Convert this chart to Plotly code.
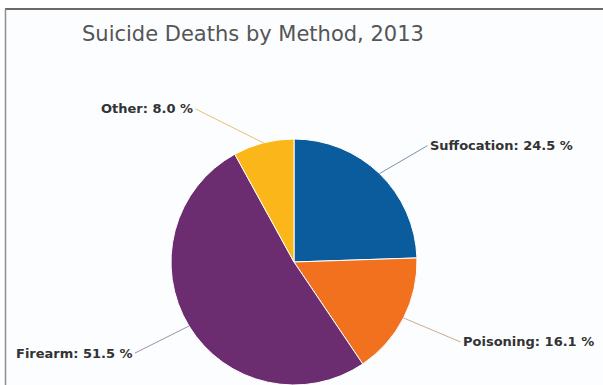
import math
import plotly.graph_objects as go

W, H = 603, 385

labels = ["Suffocation", "Poisoning", "Firearm", "Other"]
values = [24.5, 16.1, 51.5, 8.0]
colors = ["#0b5c9c", "#f2711f", "#6c2d70", "#fbb71a"]
connector_colors = ["rgba(70,100,130,0.7)", "rgba(200,150,110,0.8)",
                    "rgba(120,100,130,0.7)", "rgba(225,190,100,0.9)"]
title_text = "Suicide Deaths by Method, 2013"

# pie geometry (pixels)
cx, cy, R = 294, 262, 123
dom_x = [(cx - R) / W, (cx + R) / W]
dom_y = [0, 2 * R / H]

fig = go.Figure(go.Pie(
    labels=labels, values=values, sort=False, direction="clockwise", rotation=0,
    marker=dict(colors=colors, line=dict(color="white", width=1)),
    textinfo="none", hoverinfo="label+percent", showlegend=False,
    domain=dict(x=dom_x, y=dom_y),
))

# label offsets (pixels) and anchors
offsets = {"Suffocation": (48, -28, "left"), "Poisoning": (57, 24, "left"),
           "Firearm": (-54, 27, "right"), "Other": (-68, -34, "right")}

total = sum(values)
cum = 0.0
annotations = []
for lab, v, cc in zip(labels, values, connector_colors):
    mid = (cum + v / 2) / total * 2 * math.pi
    cum += v
    px = cx + R * math.sin(mid)
    py = cy - R * math.cos(mid)
    ax, ay, anc = offsets[lab]
    annotations.append(dict(
        x=px / W, y=1 - py / H, xref="paper", yref="paper",
        text=f"<b>{lab}: {v:.1f} %</b>",
        showarrow=True, arrowhead=0, arrowwidth=1, arrowcolor=cc,
        ax=ax, ay=ay, xanchor=anc, yanchor="middle", standoff=0,
        font=dict(family="DejaVu Sans", size=13, color="#333333"),
    ))

annotations.append(dict(
    x=253.5 / W, y=1 - 34 / H, xref="paper", yref="paper", showarrow=False,
    text=title_text, xanchor="center", yanchor="middle",
    font=dict(family="DejaVu Sans", size=21, color="#555555"),
))

shapes = [
    dict(type="rect", xref="paper", yref="paper", x0=6 / W, x1=1.01, y0=-0.01, y1=1 - 9 / H,
         fillcolor="#fbfdff", line=dict(width=0), layer="below"),
    dict(type="line", xref="paper", yref="paper", x0=5 / W, x1=1.01, y0=1 - 9 / H, y1=1 - 9 / H,
         line=dict(color="#6a6a6a", width=2)),
    dict(type="line", xref="paper", yref="paper", x0=5.5 / W, x1=5.5 / W, y0=-0.01, y1=1 - 9 / H,
         line=dict(color="#8a8f94", width=1.5)),
]

fig.update_layout(
    width=W, height=H, margin=dict(l=0, r=0, t=0, b=0),
    paper_bgcolor="white", plot_bgcolor="white",
    annotations=annotations, shapes=shapes,
)

fig.write_html("out.html", config={"displayModeBar": False},
               post_script="document.body.style.margin='0px';document.body.style.overflow='hidden';")
